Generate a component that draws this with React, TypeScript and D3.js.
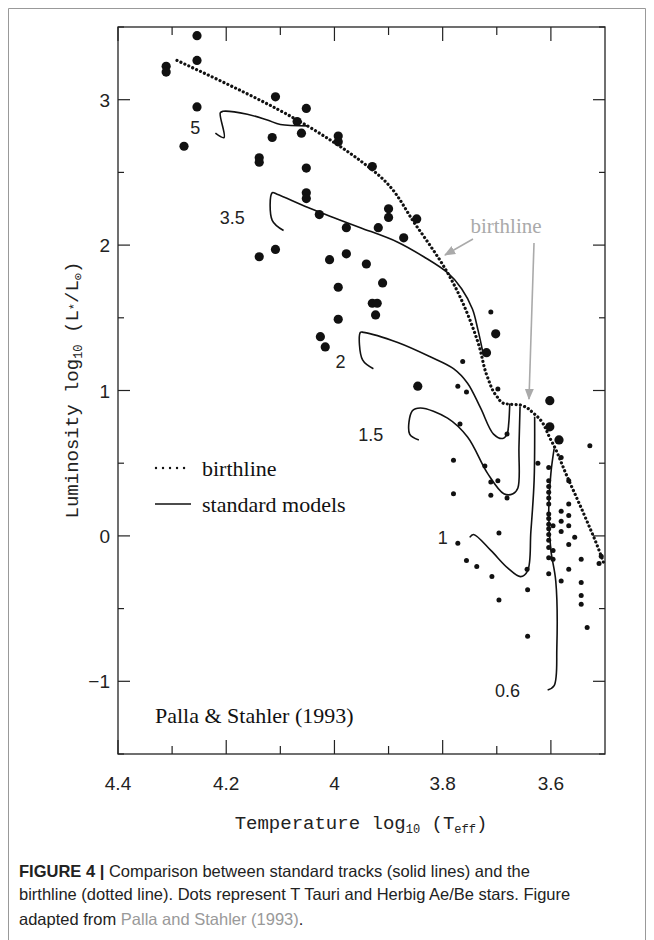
import React from "react";
import * as d3 from "d3";

const xTicks = [4.4, 4.3, 4.2, 4.1, 4.0, 3.9, 3.8, 3.7, 3.6];
const xTickLabels = ["4.4", "4.2", "4", "3.8", "3.6"];
const xLabelVals = [4.4, 4.2, 4.0, 3.8, 3.6];
const yTicks = [-1.5, -1, -0.5, 0, 0.5, 1, 1.5, 2, 2.5, 3, 3.5];
const yLabelVals = [-1, 0, 1, 2, 3];
const yTickLabels = ["\u22121", "0", "1", "2", "3"];

const bigDots: [number, number][] = [
  [4.311, 3.23], [4.311, 3.19], [4.254, 3.44], [4.254, 3.27], [4.254, 2.95], [4.278, 2.68],
  [4.109, 3.02], [4.115, 2.74], [4.052, 2.94], [4.069, 2.85], [4.061, 2.77], [4.139, 2.6],
  [4.139, 2.57], [4.052, 2.53], [4.052, 2.36], [4.052, 2.32], [3.993, 2.75], [3.993, 2.71],
  [3.93, 2.54], [4.028, 2.21], [3.978, 2.12], [3.919, 2.12], [4.139, 1.92], [4.109, 1.97],
  [4.009, 1.9], [3.978, 1.94], [3.941, 1.87], [3.993, 1.71], [3.993, 1.49], [3.93, 1.6],
  [3.921, 1.6], [3.924, 1.52], [4.026, 1.37], [4.017, 1.3], [3.9, 2.25], [3.9, 2.19],
  [3.848, 2.18], [3.872, 2.05], [3.911, 1.74], [3.702, 1.39], [3.719, 1.26], [3.846, 1.03],
  [3.602, 0.93], [3.602, 0.75], [3.585, 0.66],
];

const smallDots: [number, number][] = [
  [3.711, 1.54], [3.763, 1.2], [3.772, 1.03], [3.756, 0.99], [3.698, 1.01], [3.768, 0.77],
  [3.528, 0.62], [3.78, 0.52], [3.722, 0.48], [3.624, 0.5], [3.78, 0.29], [3.711, 0.37],
  [3.698, 0.38], [3.711, 0.28], [3.681, 0.26], [3.604, 0.47], [3.604, 0.38], [3.604, 0.34],
  [3.604, 0.3], [3.604, 0.26], [3.604, 0.22], [3.604, 0.15], [3.604, 0.12], [3.604, 0.08],
  [3.604, 0.05], [3.604, 0.01], [3.604, -0.03], [3.604, -0.08], [3.604, -0.15], [3.604, -0.26],
  [3.596, 0.07], [3.596, -0.1], [3.596, -0.16], [3.581, 0.17], [3.581, 0.1], [3.581, 0.03],
  [3.581, -0.31], [3.581, 0.54], [3.567, 0.38], [3.567, 0.22], [3.567, 0.14], [3.567, 0.07],
  [3.567, -0.06], [3.567, -0.23], [3.556, -0.01], [3.544, -0.16], [3.544, -0.32], [3.544, -0.41],
  [3.544, -0.47], [3.533, -0.63], [3.511, -0.19], [3.507, -0.14], [3.772, -0.05], [3.756, -0.17],
  [3.737, -0.21], [3.696, 0.02], [3.709, -0.28], [3.696, -0.44], [3.643, -0.37], [3.643, -0.69],
  [3.681, 0.7], [3.644, -0.23],
];

const birthline: [number, number][] = [
  [4.291, 3.27], [4.05, 2.82], [3.952, 2.58], [3.915, 2.47], [3.85, 2.14], [3.791, 1.81],
  [3.733, 1.31], [3.717, 1.09], [3.7, 0.96], [3.687, 0.91], [3.656, 0.9], [3.631, 0.84],
  [3.6, 0.66], [3.569, 0.4], [3.539, 0.15], [3.513, -0.08], [3.502, -0.19],
];

const tracks: [number, number][][] = [
  [[4.22, 2.77], [4.204, 2.74], [4.211, 2.91], [4.206, 2.92], [4.161, 2.9], [4.124, 2.86], [4.1, 2.83], [4.05, 2.82]],
  [[4.094, 2.1], [4.115, 2.17], [4.115, 2.36], [4.106, 2.35], [4.05, 2.26], [4.002, 2.19], [3.952, 2.12],
   [3.883, 2.02], [3.835, 1.92], [3.791, 1.81], [3.765, 1.7], [3.745, 1.56], [3.735, 1.42], [3.725, 1.25]],
  [[3.928, 1.15], [3.948, 1.21], [3.952, 1.4], [3.946, 1.4], [3.883, 1.33], [3.822, 1.23], [3.78, 1.15],
   [3.754, 1.05], [3.73, 0.88], [3.706, 0.7], [3.689, 0.67], [3.681, 0.7], [3.678, 0.77], [3.676, 0.91]],
  [[3.844, 0.66], [3.861, 0.7], [3.856, 0.86], [3.841, 0.88], [3.791, 0.81], [3.754, 0.68], [3.717, 0.43],
   [3.687, 0.29], [3.67, 0.29], [3.661, 0.33], [3.659, 0.61], [3.657, 0.89]],
  [[3.75, -0.01], [3.743, 0.01], [3.711, -0.1], [3.68, -0.22], [3.656, -0.28], [3.643, -0.24], [3.637, 0.03],
   [3.631, 0.38], [3.63, 0.82]],
  [[3.606, -1.06], [3.594, -1.03], [3.589, -0.77], [3.591, -0.31], [3.6, -0.1], [3.604, 0.15], [3.6, 0.43], [3.594, 0.6]],
];

const massLabels = ["5", "3.5", "2", "1.5", "1", "0.6"];
const massLabelPos: [number, number][] = [
  [4.257, 2.81], [4.189, 2.19], [3.989, 1.2], [3.933, 0.7], [3.8, -0.01], [3.68, -1.06],
];

const x = d3.scaleLinear().domain([4.4, 3.5]).range([118, 605]);
const y = d3.scaleLinear().domain([-1.5, 3.5]).range([754, 27]);

export default function App() {
  const line = d3.line<[number, number]>().x((d) => x(d[0])).y((d) => y(d[1])).curve(d3.curveCatmullRom.alpha(0.5));
  const lineLin = d3.line<[number, number]>().x((d) => x(d[0])).y((d) => y(d[1])).curve(d3.curveMonotoneY);
  const mono = "'Liberation Mono', 'DejaVu Sans Mono', monospace";
  const sans = "'Liberation Sans', Arial, sans-serif";
  const serif = "'Liberation Serif', 'Times New Roman', serif";
  return (
    <svg width={654} height={940} style={{ position: "absolute", left: 0, top: 0 }}>
      <rect x={0} y={0} width={654} height={940} fill="#fff" />
      <path d="M8.5,960 V8.5 H645.5 V960" fill="none" stroke="#999" strokeWidth={1} />
      <defs>
        <marker id="ar" viewBox="0 0 10 10" refX="9" refY="5" markerWidth="7" markerHeight="7" orient="auto-start-reverse">
          <path d="M0,1 L10,5 L0,9 z" fill="#aaa" />
        </marker>
      </defs>
      {/* frame */}
      <rect x={118} y={27} width={487} height={727} fill="none" stroke="#222" strokeWidth={1.3} />
      {xTicks.map((t, i) => {
        const major = Math.abs((t * 10) % 2) < 0.01 || Math.abs((t * 10) % 2 - 2) < 0.01;
        const len = major ? 14 : 8;
        return (
          <g key={i}>
            <line x1={x(t)} x2={x(t)} y1={754} y2={754 - len} stroke="#222" strokeWidth={1.2} />
            <line x1={x(t)} x2={x(t)} y1={27} y2={27 + len} stroke="#222" strokeWidth={1.2} />
          </g>
        );
      })}
      {yTicks.map((t, i) => {
        const major = Number.isInteger(t);
        const len = major ? 12 : 6;
        return (
          <g key={i}>
            <line x1={118} x2={118 + len} y1={y(t)} y2={y(t)} stroke="#222" strokeWidth={1.2} />
            <line x1={605} x2={605 - len} y1={y(t)} y2={y(t)} stroke="#222" strokeWidth={1.2} />
          </g>
        );
      })}
      {xLabelVals.map((v, i) => (
        <text key={i} x={x(v)} y={790} textAnchor="middle" fontFamily={sans} fontSize={19} fill="#222">
          {xTickLabels[i]}
        </text>
      ))}
      {yLabelVals.map((v, i) => (
        <text key={i} x={110} y={y(v) + 7} textAnchor="end" fontFamily={sans} fontSize={19} fill="#222">
          {yTickLabels[i]}
        </text>
      ))}
      <text x={361} y={829} textAnchor="middle" fontFamily={mono} fontSize={19} fill="#222">
        Temperature log<tspan fontSize={12} dy={4}>10</tspan>
        <tspan dy={-4}> (T</tspan>
        <tspan fontSize={12} dy={4}>eff</tspan>
        <tspan dy={-4}>)</tspan>
      </text>
      <text transform="translate(78,390) rotate(-90)" textAnchor="middle" fontFamily={mono} fontSize={19} fill="#222">
        Luminosity log<tspan fontSize={12} dy={4}>10</tspan>
        <tspan dy={-4}> (L</tspan>
        <tspan fontSize={12}>*</tspan>
        <tspan>/L</tspan>
        <tspan fontSize={12} dy={4}>⊙</tspan>
        <tspan dy={-4}>)</tspan>
      </text>

      {/* tracks */}
      {tracks.map((t, i) => (
        <path key={i} d={line(t) || ""} fill="none" stroke="#111" strokeWidth={1.6} />
      ))}
      <path d={lineLin(birthline) || ""} fill="none" stroke="#111" strokeWidth={3.2} strokeDasharray="0.01 4.3" strokeLinecap="round" />

      {bigDots.map((d, i) => (
        <circle key={i} cx={x(d[0])} cy={y(d[1])} r={4.6} fill="#111" />
      ))}
      {smallDots.map((d, i) => (
        <circle key={i} cx={x(d[0])} cy={y(d[1])} r={2.5} fill="#111" />
      ))}

      {massLabels.map((m, i) => (
        <text key={i} x={x(massLabelPos[i][0])} y={y(massLabelPos[i][1]) + 7} textAnchor="middle" fontFamily={sans} fontSize={18} fill="#222">
          {m}
        </text>
      ))}

      {/* birthline annotation */}
      <text x={506} y={233} textAnchor="middle" fontFamily={serif} fontSize={21} fill="#aaa">birthline</text>
      <line x1={473} y1={239} x2={445} y2={255} stroke="#aaa" strokeWidth={1.6} markerEnd="url(#ar)" />
      <line x1={534} y1={243} x2={529} y2={399} stroke="#aaa" strokeWidth={1.6} markerEnd="url(#ar)" />

      {/* legend */}
      <line x1={156} x2={190} y1={468} y2={468} stroke="#111" strokeWidth={2.4} strokeDasharray="0.01 7" strokeLinecap="round" />
      <text x={202} y={476} fontFamily={serif} fontSize={22} fill="#111">birthline</text>
      <line x1={155} x2={191} y1={504} y2={504} stroke="#111" strokeWidth={1.4} />
      <text x={202} y={512} fontFamily={serif} fontSize={22} fill="#111">standard models</text>
      <text x={155} y={723} fontFamily={serif} fontSize={22} fill="#111">Palla &amp; Stahler (1993)</text>

      {/* caption */}
      <text x={19} y={877} fontFamily={sans} fontSize={16.5} fill="#222">
        <tspan fontWeight="bold">FIGURE 4 | </tspan>Comparison between standard tracks (solid lines) and the
      </text>
      <text x={19} y={900} fontFamily={sans} fontSize={16.5} fill="#222">
        birthline (dotted line). Dots represent T Tauri and Herbig Ae/Be stars. Figure
      </text>
      <text x={19} y={925} fontFamily={sans} fontSize={16.5} fill="#222">
        adapted from <tspan fill="#999">Palla and Stahler (1993)</tspan>.
      </text>
    </svg>
  );
}
